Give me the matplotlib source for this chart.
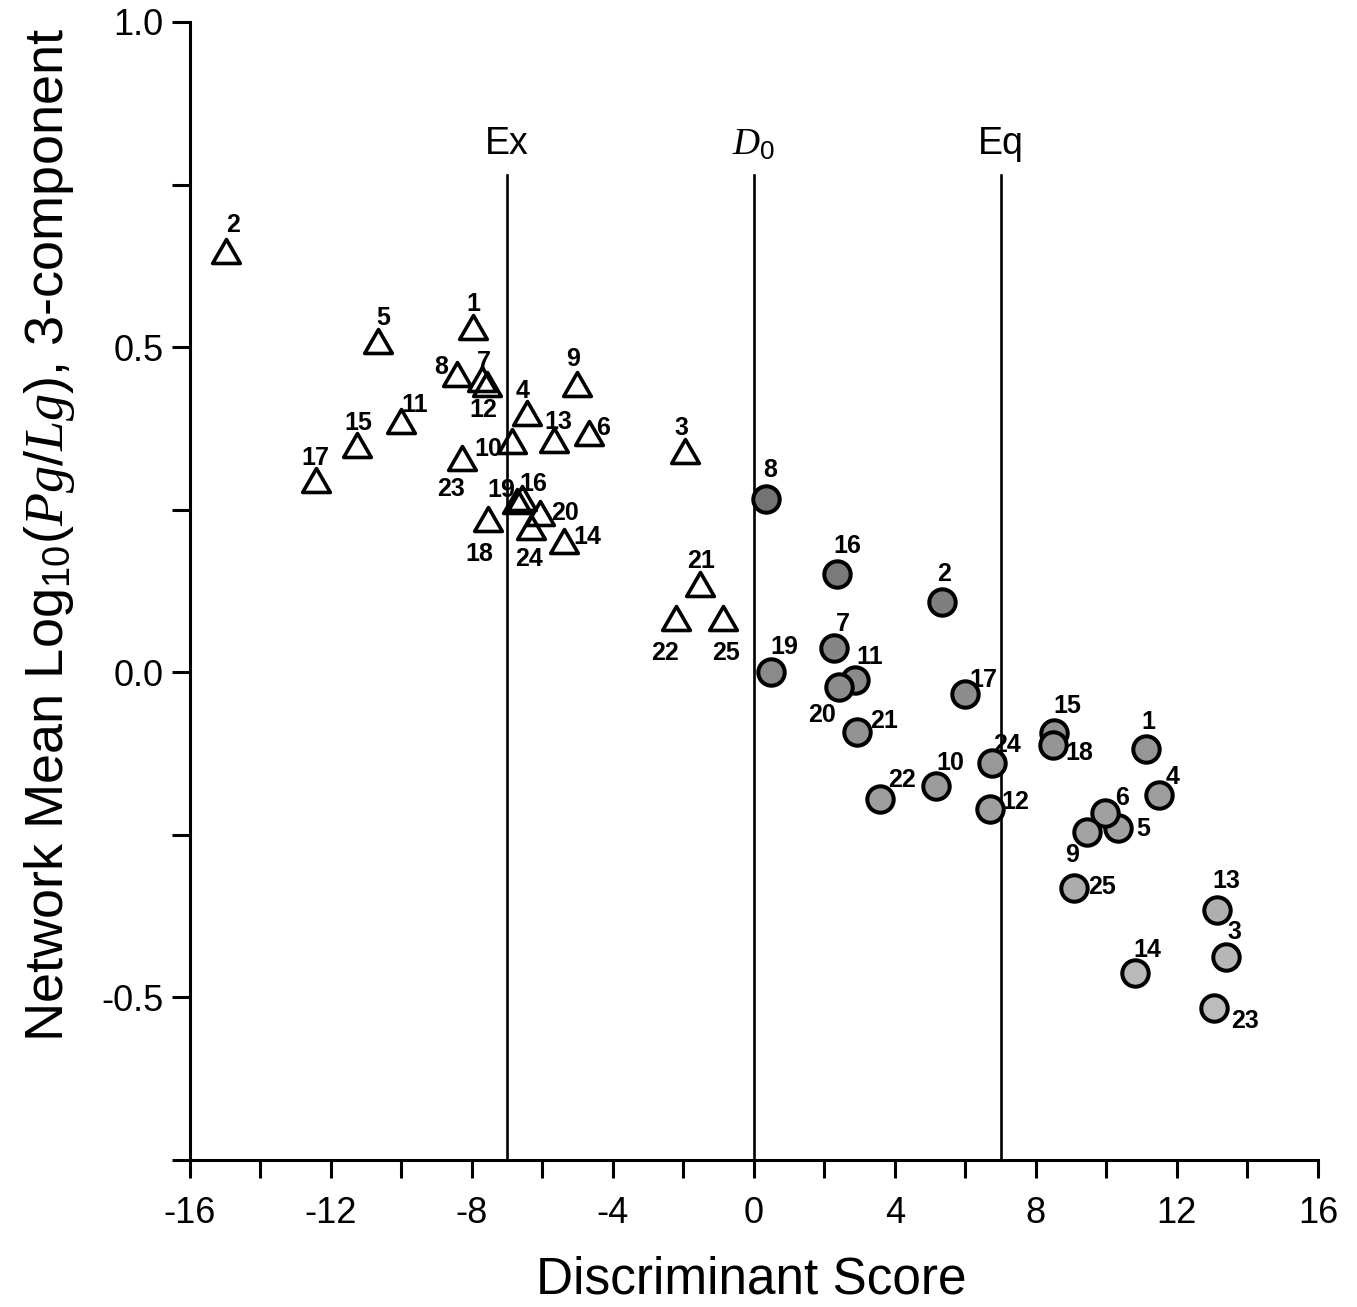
import matplotlib
matplotlib.use("Agg")
import matplotlib.pyplot as plt
import numpy as np
from matplotlib.path import Path

plt.rcParams['font.family'] = ['Liberation Sans', 'DejaVu Sans']
plt.rcParams['mathtext.fontset'] = 'custom'
plt.rcParams['mathtext.rm'] = 'Liberation Sans'
plt.rcParams['mathtext.it'] = 'Liberation Serif:italic'
plt.rcParams['axes.unicode_minus'] = False

# explosions (triangles), ids 1..25
ex_ids = list(range(1, 26))
ex_x = [-7.96, -14.98, -1.97, -6.44, -10.67, -4.69, -7.72, -8.42, -5.03, -6.87,
        -10.01, -7.57, -5.67, -5.39, -11.27, -6.59, -12.43, -7.55, -6.73, -6.07,
        -1.54, -2.21, -8.28, -6.33, -0.89]
ex_y = [0.524, 0.642, 0.334, 0.392, 0.503, 0.362, 0.445, 0.452, 0.437, 0.350,
        0.380, 0.437, 0.351, 0.196, 0.343, 0.262, 0.289, 0.230, 0.257, 0.238,
        0.130, 0.078, 0.324, 0.217, 0.078]

# earthquakes (circles), ids 1..25
eq_ids = list(range(1, 26))
eq_x = [11.12, 5.33, 13.39, 11.49, 10.33, 9.96, 2.27, 0.34, 9.45, 5.16,
        2.87, 6.70, 13.13, 10.81, 8.51, 2.35, 5.99, 8.48, 0.48, 2.41,
        2.92, 3.57, 13.05, 6.75, 9.08]
eq_y = [-0.118, 0.108, -0.438, -0.188, -0.240, -0.217, 0.037, 0.266, -0.246, -0.175,
        -0.012, -0.211, -0.365, -0.462, -0.094, 0.151, -0.034, -0.112, 0.000, -0.023,
        -0.092, -0.195, -0.517, -0.140, -0.332]

# reference lines
ref_x = [-7, 0, 7]
ref_labels = ['Ex', r'$D_0$', 'Eq']

# label offsets in pixels (dx, dy up)
ex_off = [(0, 27), (7, 30), (-3, 27), (-4, 26), (5, 27), (14, 9), (2, 21), (-16, 11),
          (-4, 29), (-23, -4), (14, 20), (-4, -22), (4, 22), (23, 8), (2, 26), (12, 18),
          (0, 26), (-9, -31), (-15, 15), (25, 4), (1, 27), (-11, -31), (-11, -27),
          (-2, -28), (3, -31)]
eq_off = [(2, 27), (2, 28), (9, 25), (14, 18), (25, -1), (17, 15), (9, 24), (4, 29),
          (-15, -23), (14, 23), (15, 23), (25, 7), (10, 29), (12, 23), (13, 27),
          (11, 28), (18, 14), (26, -8), (13, 25), (-17, -28), (27, 11), (22, 19),
          (31, -13), (15, 18), (28, 1)]

fig = plt.figure(figsize=(13.57, 13.07), dpi=100)
ax = fig.add_axes([0.1400, 0.1125, 0.8312, 0.8707])

px2pt = 0.72

for xv, lab in zip(ref_x, ref_labels):
    ax.plot([xv, xv], [-0.75, 0.765], color='black', lw=1.9, zorder=1)
    ax.text(xv, 0.812, lab, ha='center', va='center', fontsize=27)

tri = Path([(-1, -0.577), (1, -0.577), (0, 1.155), (-1, -0.577)],
           [Path.MOVETO, Path.LINETO, Path.LINETO, Path.CLOSEPOLY])
ax.plot(ex_x, ex_y, linestyle='none', marker=tri, markersize=23,
        markerfacecolor='none', markeredgecolor='black', markeredgewidth=2.6, zorder=3)

grey = np.clip(0.5 + (0.1 - np.array(eq_y)) * 0.4, 0.45, 0.74)
for i in range(len(eq_ids)):
    g = grey[i]
    ax.scatter(eq_x[i], eq_y[i], s=19 ** 2, color=(g, g, g), edgecolors='black',
               linewidths=2.9, zorder=4)

for i in range(len(ex_ids)):
    ax.annotate(str(ex_ids[i]), (ex_x[i], ex_y[i]),
                xytext=(ex_off[i][0] * px2pt, ex_off[i][1] * px2pt),
                textcoords='offset points', ha='center', va='center',
                fontsize=18, fontweight='bold')
for i in range(len(eq_ids)):
    ax.annotate(str(eq_ids[i]), (eq_x[i], eq_y[i]),
                xytext=(eq_off[i][0] * px2pt, eq_off[i][1] * px2pt),
                textcoords='offset points', ha='center', va='center',
                fontsize=18, fontweight='bold')

ax.set_xlim(-16, 16)
ax.set_ylim(-0.75, 1.0)
ax.set_xticks(np.arange(-16, 17, 4))
ax.set_xticks(np.arange(-16, 17, 2), minor=True)
ax.set_yticks([1.0, 0.5, 0.0, -0.5])
ax.set_yticklabels(['1.0', '0.5', '0.0', '-0.5'])
ax.set_yticks([0.75, 0.25, -0.25, -0.75], minor=True)
ax.tick_params(which='both', direction='out', length=13, width=2.2, labelsize=26)
ax.tick_params(axis='x', pad=13)
ax.tick_params(axis='y', pad=6)

for s in ['top', 'right']:
    ax.spines[s].set_visible(False)
for s in ['left', 'bottom']:
    ax.spines[s].set_linewidth(2.2)

ax.set_xlabel('Discriminant Score', fontsize=37)
ax.xaxis.set_label_coords(0.498, -0.084)
ax.set_ylabel(r'Network Mean Log$_{10}$($Pg/Lg$), 3-component', fontsize=39)
ax.yaxis.set_label_coords(-0.100, 0.549)

fig.savefig('out.png', dpi=100)
